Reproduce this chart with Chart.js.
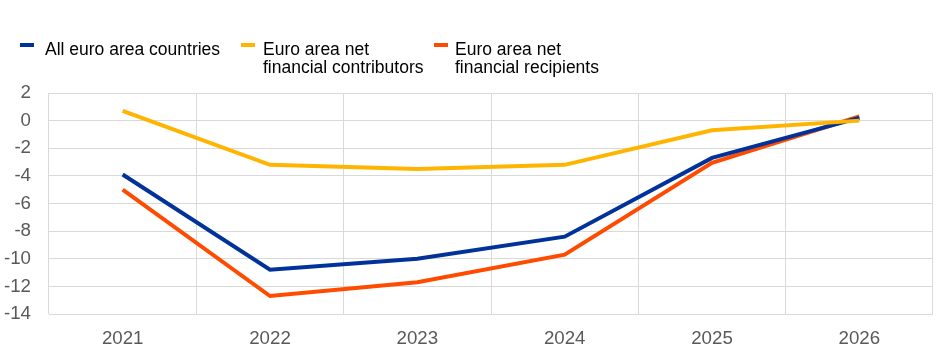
<!DOCTYPE html>
<html>
<head>
<meta charset="utf-8">
<script src="https://cdn.jsdelivr.net/npm/chart.js@4"></script>
<style>
  html, body { margin: 0; padding: 0; background: #fff; }
  #wrap { position: relative; width: 945px; height: 355px; font-family: "Liberation Sans", Arial, sans-serif; }
  #c { position: absolute; left: 0; top: 0; }
  .lg-mark { position: absolute; width: 14px; height: 4px; top: 43px; }
  .lg-text { position: absolute; top: 40px; font-size: 17.5px; line-height: 18px; color: #000; white-space: nowrap; }
</style>
</head>
<body>
<div id="wrap">
  <canvas id="c" width="945" height="355"></canvas>
  <div id="legend"></div>
</div>
<script>
const categories = ["2021", "2022", "2023", "2024", "2025", "2026"];
const allEuroArea = [-3.9, -10.8, -10.0, -8.4, -2.7, 0.2];
const netContributors = [0.7, -3.2, -3.5, -3.2, -0.7, 0.0];
const netRecipients = [-5.0, -12.7, -11.7, -9.7, -3.05, 0.3];
const seriesNames = [["All euro area countries"], ["Euro area net", "financial contributors"], ["Euro area net", "financial recipients"]];
const seriesColors = ["#003299", "#FFB400", "#FF4B00"];
const yMin = -14, yMax = 2, yStep = 2;

// HTML legend
const legendPos = [{m: 20, t: 45}, {m: 241, t: 263}, {m: 434, t: 455}];
const lg = document.getElementById("legend");
seriesNames.forEach((name, i) => {
  const m = document.createElement("div");
  m.className = "lg-mark";
  m.style.left = legendPos[i].m + "px";
  m.style.background = seriesColors[i];
  lg.appendChild(m);
  const t = document.createElement("div");
  t.className = "lg-text";
  t.style.left = legendPos[i].t + "px";
  t.innerHTML = name.join("<br>");
  lg.appendChild(t);
});

const values = [allEuroArea, netContributors, netRecipients];
const datasets = values.map((v, i) => ({
  label: seriesNames[i].join(" "),
  data: v,
  borderColor: seriesColors[i],
  backgroundColor: seriesColors[i],
  borderWidth: 4,
  pointRadius: 0,
  tension: 0,
  fill: false
}));
// draw order: yellow, blue, orange on top
const ordered = [datasets[1], datasets[0], datasets[2]];

new Chart(document.getElementById("c"), {
  type: "line",
  data: { labels: categories, datasets: ordered },
  options: {
    responsive: false,
    animation: false,
    devicePixelRatio: 1,
    layout: { padding: { top: 93, right: 12, bottom: 0, left: 0 } },
    plugins: { legend: { display: false }, tooltip: { enabled: false } },
    scales: {
      x: {
        offset: true,
        grid: { offset: true, color: "#d9d9d9", lineWidth: 1, drawTicks: false },
        border: { display: false },
        ticks: { color: "#595959", font: { family: "Liberation Sans", size: 18.7 }, padding: 14, maxRotation: 0 },
        afterFit: s => { s.height = 41; }
      },
      y: {
        min: yMin, max: yMax,
        grid: { color: "#d9d9d9", lineWidth: 1, drawTicks: false },
        border: { display: false },
        ticks: { stepSize: yStep, color: "#595959", font: { family: "Liberation Sans", size: 18.7 }, padding: 18 },
        afterFit: s => { s.width = 49; }
      }
    }
  }
});
</script>
</body>
</html>
